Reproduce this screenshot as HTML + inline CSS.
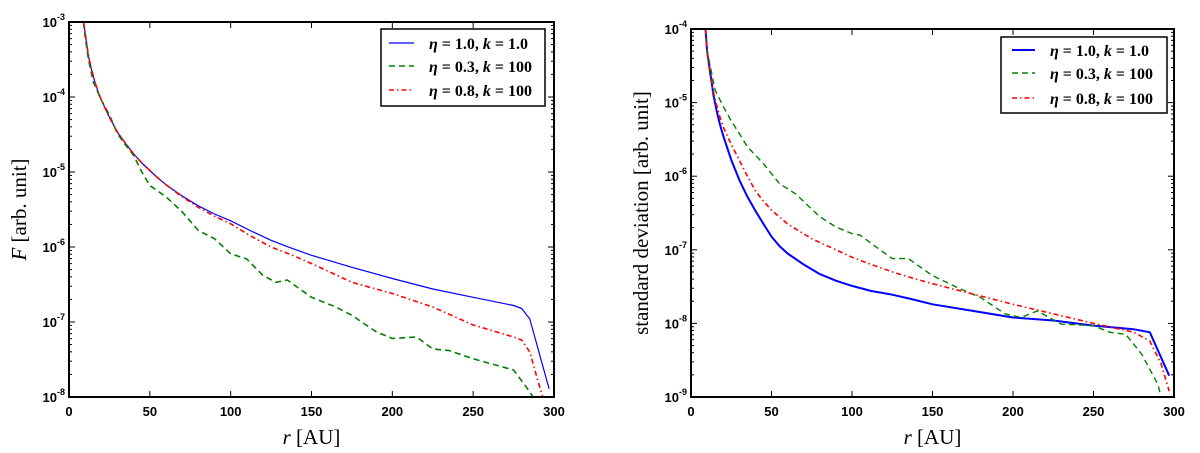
<!DOCTYPE html>
<html><head><meta charset="utf-8"><style>
html,body{margin:0;padding:0;background:#fff;}
svg{display:block;font-family:"Liberation Serif",serif;}
.tk{font-family:"Liberation Sans",sans-serif;font-weight:bold;font-size:13px;}
</style></head><body>
<svg id="fig" width="1200" height="453" viewBox="0 0 1200 453" xmlns="http://www.w3.org/2000/svg"></svg>
<script>
// ---- Left panel data (log10 F) ----
const leftBlueX=[9,10,11,12,14,16,18,20,25,30,35,40,45,50,55,60,70,80,90,100,112,125,137,150,175,200,225,250,275,280,285,297];
const leftBlueY=[-3,-3.15,-3.3,-3.45,-3.64,-3.8,-3.93,-4.04,-4.27,-4.47,-4.62,-4.76,-4.88,-4.98,-5.08,-5.17,-5.32,-5.45,-5.56,-5.65,-5.78,-5.91,-6.01,-6.11,-6.27,-6.42,-6.56,-6.67,-6.78,-6.82,-6.96,-7.89];
const leftRedX=[9,10,11,12,14,16,18,20,25,30,35,40,45,50,55,60,70,80,90,100,112,125,137,150,175,200,225,250,275,280,285,290,293];
const leftRedY=[-3,-3.15,-3.3,-3.45,-3.64,-3.8,-3.93,-4.04,-4.27,-4.47,-4.62,-4.76,-4.88,-4.98,-5.08,-5.17,-5.33,-5.47,-5.59,-5.69,-5.85,-6.0,-6.1,-6.22,-6.47,-6.62,-6.8,-7.04,-7.2,-7.24,-7.4,-7.78,-8.0];
const leftGreenX=[9,10,12,15,20,25,30,35,40,45,50,60,70,80,90,100,110,120,128,135,150,165,175,190,200,215,225,235,250,265,275,285,287];
const leftGreenY=[-3,-3.2,-3.5,-3.8,-4.04,-4.24,-4.49,-4.64,-4.78,-5.0,-5.18,-5.33,-5.53,-5.78,-5.89,-6.09,-6.16,-6.38,-6.47,-6.44,-6.67,-6.8,-6.91,-7.13,-7.22,-7.2,-7.36,-7.38,-7.49,-7.58,-7.64,-7.93,-8.0];
// ---- Right panel data (log10 std) ----
const rightBlueX=[9,10,12,14,16,18,20,25,30,35,40,45,50,55,60,70,80,90,100,112,125,137,150,175,200,225,250,275,285,297];
const rightBlueY=[-4,-4.3,-4.6,-4.9,-5.12,-5.3,-5.45,-5.78,-6.05,-6.28,-6.47,-6.65,-6.82,-6.95,-7.05,-7.2,-7.33,-7.42,-7.49,-7.56,-7.61,-7.67,-7.74,-7.83,-7.92,-7.96,-8.03,-8.08,-8.12,-8.71];
const rightRedX=[9,10,12,15,18,20,25,30,35,40,45,50,60,75,90,100,112,125,137,150,175,200,225,250,275,285,292,297];
const rightRedY=[-4,-4.3,-4.65,-4.96,-5.2,-5.33,-5.57,-5.78,-6.0,-6.2,-6.34,-6.46,-6.65,-6.85,-7.0,-7.1,-7.2,-7.3,-7.38,-7.46,-7.6,-7.74,-7.87,-8.0,-8.12,-8.24,-8.55,-8.92];
const rightGreenX=[9,10,12,15,20,25,30,35,45,55,65,80,90,100,105,115,125,135,150,165,180,195,205,215,230,250,260,270,280,290,292];
const rightGreenY=[-4,-4.3,-4.51,-4.83,-5.05,-5.25,-5.42,-5.6,-5.83,-6.1,-6.24,-6.55,-6.69,-6.78,-6.8,-6.96,-7.12,-7.12,-7.35,-7.51,-7.65,-7.87,-7.92,-7.83,-8.01,-8.03,-8.12,-8.15,-8.42,-8.83,-9.0];
const xTicks=[0,50,100,150,200,250,300];
const leftDecades=[-8,-7,-6,-5,-4,-3];
const rightDecades=[-9,-8,-7,-6,-5,-4];
const legendLabels=["η = 1.0, k = 1.0","η = 0.3, k = 100","η = 0.8, k = 100"];

const NS="http://www.w3.org/2000/svg";
const svg=document.getElementById('fig');
function mk(tag,attrs,parent){const e=document.createElementNS(NS,tag);for(const k in attrs)e.setAttribute(k,attrs[k]);(parent||svg).appendChild(e);return e;}

function panel(cfg){
  const g=mk('g',{});
  
  
  const {x0,x1,y0,y1,dmin,dmax}=cfg;
  const sx=v=>x0+(v-0)/300*(x1-x0);
  const sy=v=>y1-(v-dmin)/(dmax-dmin)*(y1-y0);
  const cp=mk('clipPath',{id:cfg.clip},g);
  mk('rect',{x:x0,y:y0,width:x1-x0,height:y1-y0},cp);
  cfg.series.forEach(s=>{
    let d='';
    s.x.forEach((xv,i)=>{d+=(i?'L':'M')+sx(xv).toFixed(1)+','+sy(Math.max(dmin-0.05,s.y[i])).toFixed(1);});
    const p=mk('path',{d:d,fill:'none',stroke:s.color,'stroke-width':s.w,'stroke-dasharray':s.dash||'none','stroke-linejoin':'round','clip-path':'url(#'+cfg.clip+')'},g);
    
    
  });
  xTicks.forEach(t=>{
    const X=sx(t);
    mk('line',{x1:X,x2:X,y1:y1,y2:y1-6,stroke:'#000','stroke-width':1},g);
    mk('line',{x1:X,x2:X,y1:y0,y2:y0+6,stroke:'#000','stroke-width':1},g);
    const tx=mk('text',{x:X,y:y1+19,'text-anchor':'middle',class:'tk'},g);
    tx.textContent=t;
    
    
  });
  cfg.decades.forEach((dv,i)=>{
    const Y=sy(dv);
    mk('line',{x1:x0,x2:x0+6,y1:Y,y2:Y,stroke:'#000','stroke-width':1},g);
    mk('line',{x1:x1,x2:x1-6,y1:Y,y2:Y,stroke:'#000','stroke-width':1},g);
    const tx=mk('text',{x:x0-4,y:Y+5,'text-anchor':'end',class:'tk'},g);
    
    
    const a=mk('tspan',{},tx);a.textContent='10';
    const b=mk('tspan',{dy:-7,'font-size':'9px'},tx);b.textContent=String(dv);
    if(i<cfg.decades.length-1){
      for(let m=2;m<10;m++){
        const Ym=sy(dv+Math.log10(m));
        mk('line',{x1:x0,x2:x0+3,y1:Ym,y2:Ym,stroke:'#000','stroke-width':1},g);
        mk('line',{x1:x1,x2:x1-3,y1:Ym,y2:Ym,stroke:'#000','stroke-width':1},g);
      }
    }
  });
  const fr=mk('rect',{x:x0,y:y0,width:x1-x0,height:y1-y0,fill:'none',stroke:'#000','stroke-width':2},g);
  
  
  const xl=mk('text',{x:(x0+x1)/2,y:444,'text-anchor':'middle','font-size':'21px'},g);
  
  
  const i1=mk('tspan',{'font-style':'italic'},xl);i1.textContent='r';
  const i2=mk('tspan',{},xl);i2.textContent=' [AU]';
  const cy=(y0+y1)/2;
  const yl=mk('text',{x:cfg.ylx,y:cy,'text-anchor':'middle','font-size':'21px',transform:'rotate(-90 '+cfg.ylx+' '+cy+')'},g);
  
  
  yl.innerHTML=cfg.ylabel;
  const L=cfg.leg;
  const lg=mk('g',{},g);
  
  
  mk('rect',{x:L.x,y:L.y,width:L.w,height:L.h,fill:'#fff',stroke:'#000','stroke-width':1.5},lg);
  cfg.series.forEach((s,i)=>{
    const Y=L.rows[i];
    const ent=mk('g',{},lg);
    
    
    mk('line',{x1:L.lx1,x2:L.lx2,y1:Y,y2:Y,stroke:s.color,'stroke-width':s.w,'stroke-dasharray':s.dash||'none'},ent);
    const t=mk('text',{x:L.tx,y:Y+6,'font-size':'16px','font-weight':'bold'},ent);
    t.innerHTML=legendLabels[i].replace('η','<tspan font-style="italic">η</tspan>').replace('k =','<tspan font-style="italic">k</tspan> =');
  });
}

panel({name:'left-chart',clip:'cl',x0:69,x1:554,y0:22,y1:397,dmin:-8,dmax:-3,decades:leftDecades,ylx:26,
  ylabel:'<tspan font-style="italic">F</tspan> [arb. unit]',
  series:[
    {name:'series-eta1-k1',x:leftBlueX,y:leftBlueY,color:'#0000ff',w:1.2},
    {name:'series-eta03-k100',x:leftGreenX,y:leftGreenY,color:'#008000',w:1.6,dash:'6 4'},
    {name:'series-eta08-k100',x:leftRedX,y:leftRedY,color:'#ff0000',w:1.6,dash:'5 3 1.5 3'}],
  leg:{x:381,y:29,w:164,h:77,rows:[43,66,90],lx1:389,lx2:414,tx:429}});
panel({name:'right-chart',clip:'cr',x0:691,x1:1174,y0:29,y1:397,dmin:-9,dmax:-4,decades:rightDecades,ylx:648,
  ylabel:'standard deviation [arb. unit]',
  series:[
    {name:'series-eta1-k1',x:rightBlueX,y:rightBlueY,color:'#0000ff',w:2},
    {name:'series-eta03-k100',x:rightGreenX,y:rightGreenY,color:'#008000',w:1.4,dash:'6 4'},
    {name:'series-eta08-k100',x:rightRedX,y:rightRedY,color:'#ff0000',w:1.6,dash:'5 3 1.5 3'}],
  leg:{x:1001,y:37,w:166,h:76,rows:[50,73,98],lx1:1012,lx2:1035,tx:1050}});
</script>
</body></html>
